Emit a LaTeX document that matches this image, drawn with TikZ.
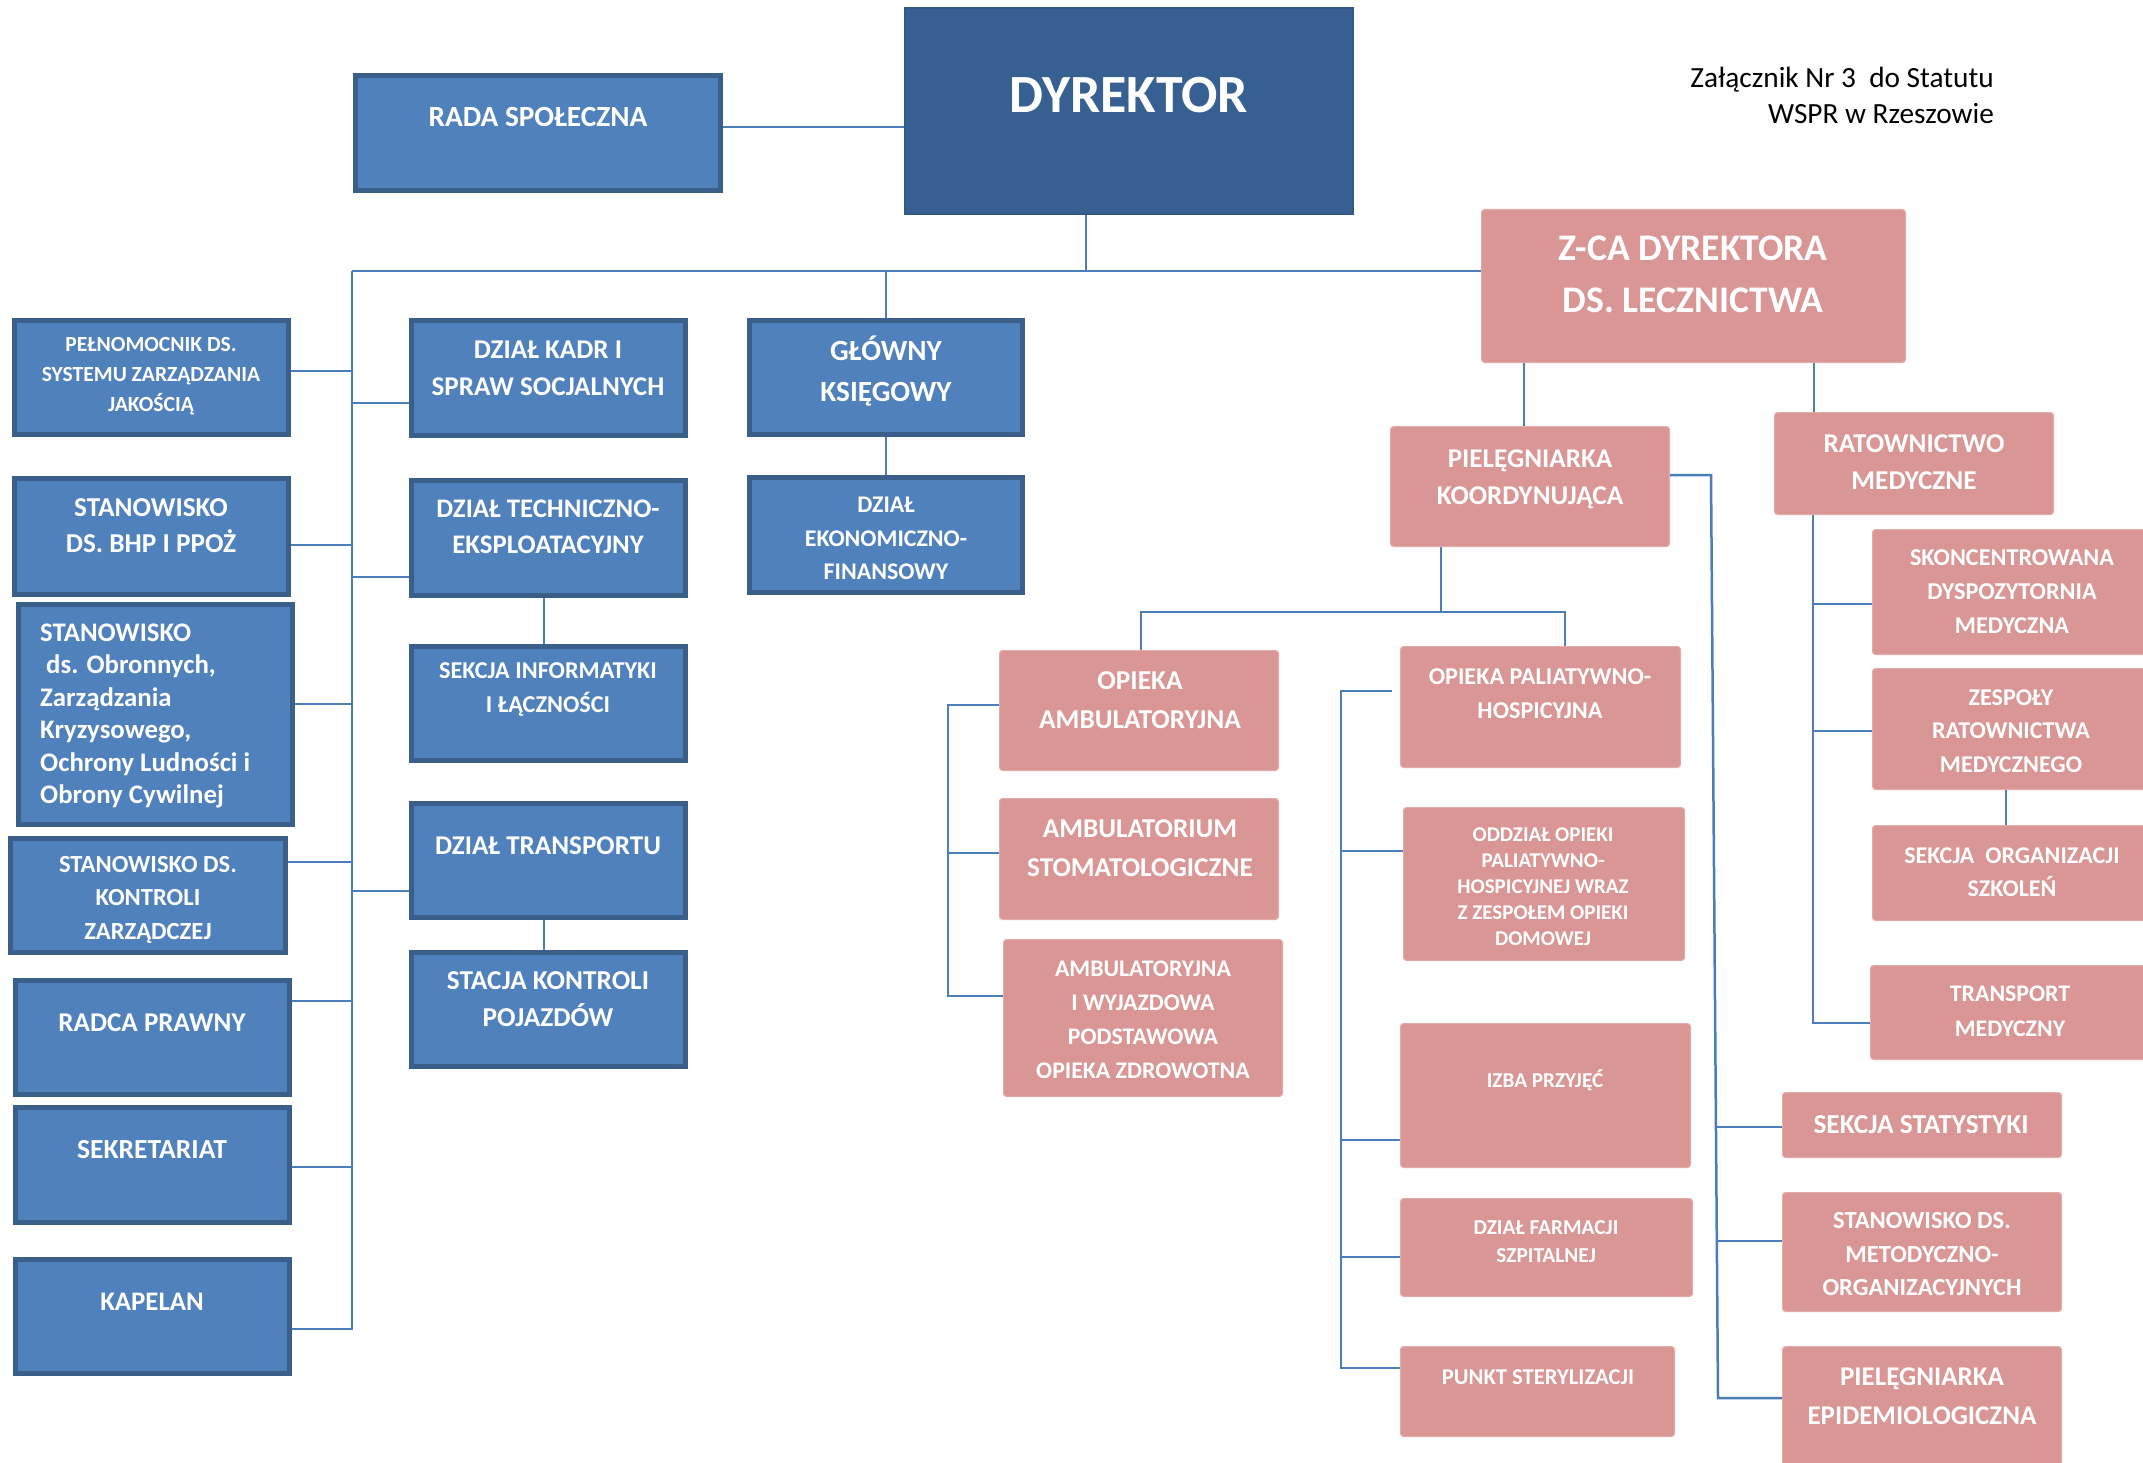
\documentclass[tikz,border=0pt]{standalone}
\usepackage{fontspec}
\setmainfont{Carlito}
\usetikzlibrary{fit,calc}
\definecolor{bfill}{HTML}{4F81BD}
\definecolor{bdraw}{HTML}{3A5F8B}
\definecolor{dfill}{HTML}{376092}
\definecolor{pfill}{HTML}{D99694}
\definecolor{pdraw}{HTML}{E2AAA8}
\definecolor{lcol}{HTML}{4A7EBB}
\newcommand{\mkbox}[6]{\node[#1, fit={(#3,#4) (#5,#6)}] (#2) {};}
\begin{document}
\begin{tikzpicture}[x=1pt,y=-1pt,
 bb/.style={draw=bdraw, fill=bfill, line width=5pt, inner sep=-2.5pt},
 db/.style={draw=dfill!92!black, fill=dfill, line width=2pt, inner sep=-1pt},
 pb/.style={draw=pdraw, fill=pfill, line width=1.2pt, rounded corners=3pt, inner sep=-0.6pt},
 tx/.style n args={2}{text=white, align=center, inner sep=0pt, font=\bfseries\fontsize{#1}{#2}\selectfont},
 ln/.style={draw=lcol, line width=2.5pt}]
\path[use as bounding box] (0,0) rectangle (2143,1463);
\clip (0,0) rectangle (2143,1463);
\fill[white] (0,0) rectangle (2143,1463);

% ---- boxes ----
\mkbox{bb}{rada}{353}{73}{723}{193}
\mkbox{db}{dyr}{904}{7}{1354}{215}
\mkbox{pb}{zca}{1481}{209}{1906}{363}
\mkbox{bb}{peln}{12}{318}{291}{437}
\mkbox{bb}{kadr}{409}{318}{688}{438}
\mkbox{bb}{ksieg}{747}{318}{1025}{437}
\mkbox{bb}{ekon}{747}{475}{1025}{595}
\mkbox{bb}{bhp}{12}{476}{291}{597}
\mkbox{bb}{tech}{409}{478}{688}{598}
\mkbox{bb}{obr}{16}{602}{295}{827}
\mkbox{bb}{inf}{409}{644}{688}{763}
\mkbox{bb}{kontr}{8}{836}{288}{955}
\mkbox{bb}{transp}{409}{801}{688}{920}
\mkbox{bb}{stacja}{409}{950}{688}{1069}
\mkbox{bb}{radca}{13}{978}{292}{1097}
\mkbox{bb}{sekr}{13}{1105}{292}{1225}
\mkbox{bb}{kap}{13}{1257}{292}{1376}
\mkbox{pb}{koord}{1390}{426}{1670}{547}
\mkbox{pb}{ratow}{1774}{412}{2054}{515}
\mkbox{pb}{opamb}{999}{650}{1279}{771}
\mkbox{pb}{stom}{999}{798}{1279}{920}
\mkbox{pb}{wyj}{1003}{939}{1283}{1097}
\mkbox{pb}{pal}{1400}{646}{1681}{768}
\mkbox{pb}{oddz}{1403}{807}{1685}{961}
\mkbox{pb}{izba}{1400}{1023}{1691}{1168}
\mkbox{pb}{farm}{1400}{1198}{1693}{1297}
\mkbox{pb}{ster}{1400}{1346}{1675}{1437}
\mkbox{pb}{stat}{1782}{1092}{2062}{1158}
\mkbox{pb}{metod}{1782}{1192}{2062}{1312}
\mkbox{pb}{epid}{1782}{1346}{2062}{1480}
\mkbox{pb}{skon}{1872}{529}{2170}{655}
\mkbox{pb}{zesp}{1872}{668}{2170}{790}
\mkbox{pb}{szkol}{1872}{825}{2170}{921}
\mkbox{pb}{trmed}{1870}{965}{2170}{1060}

% ---- texts ----
\node[tx={29.3}{36}] (radat) at (538,117) {RADA SPOŁECZNA};
\node[tx={53.8}{60}] (dyrt) at (1129,95) {DYREKTOR};
\node[tx={37.6}{52}] (zcat) at (1693,274) {Z-CA DYREKTORA\\DS. LECZNICTWA};
\node[tx={21.6}{30}] (pelnt) at (151,376) {PEŁNOMOCNIK DS.\\SYSTEMU ZARZĄDZANIA\\JAKOŚCIĄ};
\node[tx={27.1}{37}] (kadrt) at (548,368.5) {DZIAŁ KADR I\\SPRAW SOCJALNYCH};
\node[tx={29.3}{41}] (ksiegt) at (886,371.5) {GŁÓWNY\\KSIĘGOWY};
\node[tx={23.9}{33.5}] (ekont) at (886,538.5) {DZIAŁ\\EKONOMICZNO-\\FINANSOWY};
\node[tx={27.3}{36}] (bhpt) at (151,526) {STANOWISKO\\DS. BHP I PPOŻ};
\node[tx={26.8}{36}] (techt) at (548,527) {DZIAŁ TECHNICZNO-\\EKSPLOATACYJNY};
\node[tx={26.8}{32.5}, align=left, anchor=west] (obrt) at (40,716) {STANOWISKO\\\hspace*{6pt}ds. Obronnych,\\Zarządzania\\Kryzysowego,\\Ochrony Ludności i\\Obrony Cywilnej};
\node[tx={24.2}{34}] (inft) at (548,690) {SEKCJA INFORMATYKI\\I ŁĄCZNOŚCI};
\node[tx={24.6}{33.5}] (kontrt) at (148,899.5) {STANOWISKO DS.\\KONTROLI\\ZARZĄDCZEJ};
\node[tx={27.1}{36}] (transpt) at (548,846) {DZIAŁ TRANSPORTU};
\node[tx={27.3}{37}] (stacjat) at (548,999.5) {STACJA KONTROLI\\POJAZDÓW};
\node[tx={27.1}{36}] (radcat) at (152,1023) {RADCA PRAWNY};
\node[tx={27.6}{36}] (sekrt) at (152,1150) {SEKRETARIAT};
\node[tx={26.8}{36}] (kapt) at (152,1302) {KAPELAN};
\node[tx={27.1}{37}] (koordt) at (1530,479) {PIELĘGNIARKA\\KOORDYNUJĄCA};
\node[tx={27.2}{37}] (ratowt) at (1914,462.5) {RATOWNICTWO\\MEDYCZNE};
\node[tx={27.3}{39}] (opambt) at (1140,700.5) {OPIEKA\\AMBULATORYJNA};
\node[tx={27.2}{39}] (stomt) at (1140,848.5) {AMBULATORIUM\\STOMATOLOGICZNE};
\node[tx={23.8}{34}] (wyjt) at (1143,1020) {AMBULATORYJNA\\I WYJAZDOWA\\PODSTAWOWA\\OPIEKA ZDROWOTNA};
\node[tx={24.2}{34}] (palt) at (1540,694) {OPIEKA PALIATYWNO-\\HOSPICYJNA};
\node[tx={21}{26}] (oddzt) at (1543,887) {ODDZIAŁ OPIEKI\\PALIATYWNO-\\HOSPICYJNEJ WRAZ\\Z ZESPOŁEM OPIEKI\\DOMOWEJ};
\node[tx={21.2}{28}] (izbat) at (1545,1080) {IZBA PRZYJĘĆ};
\node[tx={21.3}{28}] (farmt) at (1546,1242) {DZIAŁ FARMACJI\\SZPITALNEJ};
\node[tx={22.6}{28}] (stert) at (1538,1377) {PUNKT STERYLIZACJI};
\node[tx={27.4}{36}] (statt) at (1921,1125) {SEKCJA STATYSTYKI};
\node[tx={24.6}{33.5}] (metodt) at (1922,1254.5) {STANOWISKO DS.\\METODYCZNO-\\ORGANIZACYJNYCH};
\node[tx={27}{39}] (epidt) at (1922,1396.5) {PIELĘGNIARKA\\EPIDEMIOLOGICZNA};
\node[tx={24.2}{34}] (skont) at (2012,592) {SKONCENTROWANA\\DYSPOZYTORNIA\\MEDYCZNA};
\node[tx={24.1}{33.5}] (zespt) at (2011,731) {ZESPOŁY\\RATOWNICTWA\\MEDYCZNEGO};
\node[tx={24}{33}] (szkolt) at (2012,872.5) {SEKCJA\ \ ORGANIZACJI\\SZKOLEŃ};
\node[tx={23.8}{35}] (trmedt) at (2010,1011.5) {TRANSPORT\\MEDYCZNY};
\node[align=right, anchor=east, inner sep=0pt, font=\fontsize{29.3}{36}\selectfont] (hdr) at (1994,95) {Załącznik Nr 3\ \ do Statutu\\WSPR w Rzeszowie};

% ---- connectors ----
\coordinate (jl) at (352,271);
\coordinate (kl) at (1141,612);
\coordinate (kr) at (1565,612);
\coordinate (bx1) at (948,0);
\coordinate (bx2) at (1341,0);
\coordinate (rx) at (1813,0);
\draw[ln] (rada.east |- 0,127) -- (dyr.west |- 0,127);
\draw[ln] (dyr.south -| 1086,0) -- (1086,271);
\draw[ln] (jl) -- (zca.west |- jl);
\draw[ln] (jl) |- (kap.east |- 0,1329);
\draw[ln] (peln.east |- 0,371) -- (jl |- 0,371);
\draw[ln] (bhp.east |- 0,545) -- (jl |- 0,545);
\draw[ln] (obr.east |- 0,704) -- (jl |- 0,704);
\draw[ln] (kontr.east |- 0,862) -- (jl |- 0,862);
\draw[ln] (radca.east |- 0,1001) -- (jl |- 0,1001);
\draw[ln] (sekr.east |- 0,1167) -- (jl |- 0,1167);
\draw[ln] (jl |- 0,403) -- (kadr.west |- 0,403);
\draw[ln] (jl |- 0,577) -- (tech.west |- 0,577);
\draw[ln] (jl |- 0,891) -- (transp.west |- 0,891);
\draw[ln] (ksieg.north) -- (ksieg.north |- jl);
\draw[ln] (ksieg.south) -- (ekon.north);
\draw[ln] (tech.south -| 544,0) -- (inf.north -| 544,0);
\draw[ln] (transp.south -| 544,0) -- (stacja.north -| 544,0);
\draw[ln] (zca.south -| 1524,0) -- (koord.north -| 1524,0);
\draw[ln] (zca.south -| 1814,0) -- (ratow.north -| 1814,0);
\draw[ln] (koord.south -| 1441,0) -- (kl -| 1441,0);
\draw[ln] (opamb.north -| kl) -- (kl) -- (kr) -- (pal.north -| kr);
% bracket 1
\draw[ln] (opamb.west |- 0,705) -- (bx1 |- 0,705) -- (bx1 |- 0,996) -- (wyj.west |- 0,996);
\draw[ln] (bx1 |- 0,853) -- (stom.west |- 0,853);
% bracket 2
\draw[ln] ($(pal.west |- 0,691)+(-8,0)$) -- (bx2 |- 0,691) -- (bx2 |- 0,1368) -- (ster.west |- 0,1368);
\draw[ln] (bx2 |- 0,851) -- (oddz.west |- 0,851);
\draw[ln] (bx2 |- 0,1140) -- (izba.west |- 0,1140);
\draw[ln] (bx2 |- 0,1257) -- (farm.west |- 0,1257);
% koordynujaca right
\draw[ln] (koord.east |- 0,475) -- (1711,475) -- (1718,1398) -- (epid.west |- 0,1398);
\draw[ln] (1716,1127) -- (stat.west |- 0,1127);
\draw[ln] (1717,1241) -- (metod.west |- 0,1241);
% ratownictwo
\draw[ln] (ratow.south -| rx) -- (rx |- 0,1023) -- (trmed.west |- 0,1023);
\draw[ln] (rx |- 0,604) -- (skon.west |- 0,604);
\draw[ln] (rx |- 0,731) -- (zesp.west |- 0,731);
\draw[ln] (zesp.south -| 2006,0) -- (szkol.north -| 2006,0);
\end{tikzpicture}
\end{document}
